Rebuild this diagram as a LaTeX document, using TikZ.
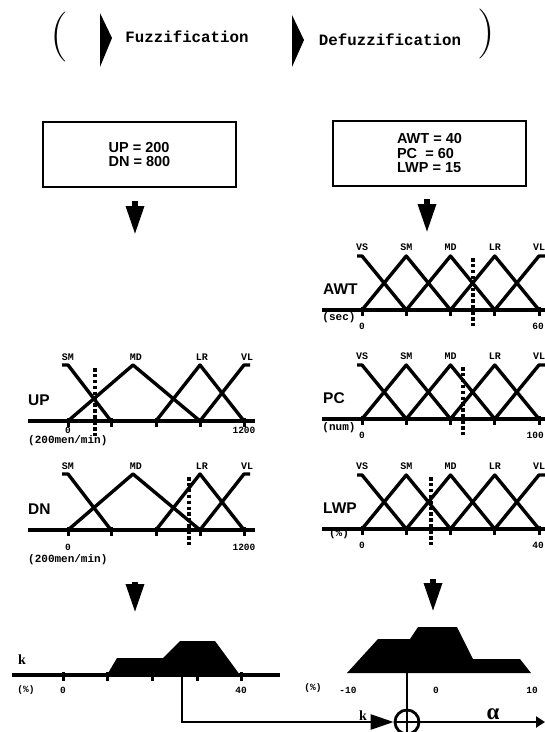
\documentclass[tikz,border=0pt]{standalone}
\usepackage{fontspec}
\usetikzlibrary{arrows.meta}
\newfontfamily\fzMono{Liberation Mono}
\newfontfamily\fzSans{Liberation Sans}
\newfontfamily\fzSerif{Liberation Serif}
\tikzset{
  mf line/.style={line width=3.4pt, line join=round},
  axis line/.style={line width=4.4pt},
  tick mark/.style={line width=3pt},
  cut line/.style={line width=3.6pt, dash pattern=on 3.5pt off 2.4pt},
  signal line/.style={line width=2.6pt},
  flow arrow/.style={line width=6pt, -{Triangle[length=29pt,width=17pt]}},
  paren/.style={font=\fontsize{50}{50}\selectfont, inner sep=0pt},
  stage label/.style={font=\fzMono\bfseries\fontsize{15.8}{16}\selectfont, inner sep=0pt},
  value box/.style={
    draw, line width=2.6pt, minimum width=193pt, minimum height=65pt,
    align=left, inner sep=0pt,
    font=\fzSans\bfseries\fontsize{14.5}{14.5}\selectfont,
  },
  term label/.style={font=\fzMono\bfseries\fontsize{10}{10}\selectfont, inner sep=0pt},
  small label/.style={font=\fzMono\bfseries\fontsize{9.5}{10}\selectfont, inner sep=0pt},
  unit label/.style={font=\fzMono\bfseries\fontsize{11}{11}\selectfont, inner sep=0pt},
  var label/.style={font=\fzSans\bfseries\fontsize{15.5}{16}\selectfont, inner sep=0pt, anchor=west},
  out label/.style={font=\fzSerif\bfseries\fontsize{14}{14}\selectfont, inner sep=0pt},
  alpha label/.style={font=\fzSerif\bfseries\fontsize{23}{23}\selectfont, inner sep=0pt},
  sum node/.style={circle, draw, line width=2.8pt, minimum size=24pt, inner sep=0pt},
}

\begin{document}
\begin{tikzpicture}[x=1pt, y=-1pt]
\clip (0,0) rectangle (545,732);
\fill[white] (0,0) rectangle (545,732);

% heading
\node[paren] (lpar) at (59,37) {(};
\node[paren] (rpar) at (486,34) {)};
\fill (100,13) -- (112,38) -- (100,67) -- cycle;
\fill (292,15) -- (304,40) -- (292,67) -- cycle;
\node[stage label] (fuzz) at (187,37) {Fuzzification};
\node[stage label] (defuzz) at (390,40) {Defuzzification};

% input values
\node[value box] (inL) at (139.5,154.5) {UP = 200\\DN = 800};
\node[value box] (inR) at (429.5,153.5) {AWT = 40\\PC\ \ = 60\\LWP = 15};

% flow arrows
\coordinate (fl1a) at (135,201); \coordinate (fl1b) at (135,235);
\coordinate (fr1a) at (427,199); \coordinate (fr1b) at (427,233);
\coordinate (fl2a) at (135,582); \coordinate (fl2b) at (135,613);
\coordinate (fr2a) at (433,579); \coordinate (fr2b) at (433,612);
\foreach \a/\b in {fl1a/fl1b, fr1a/fr1b, fl2a/fl2b, fr2a/fr2b}
  \draw[flow arrow] (\a) -- (\b);

% fuzzification: UP and DN (4 terms)
\foreach \nm/\ya/\cx/\ly/\uy in {UP/421/95/430/441, DN/530/189/547/560} {
  \pgfmathsetmacro\yp{\ya-56}
  \draw[axis line] (28,\ya) -- (255,\ya);
  \foreach \tx in {68,111,156,200,244}
    \draw[tick mark] (\tx,\ya-3) -- (\tx,\ya+6);
  \draw[mf line] (62,\yp) -- (68,\yp) -- (111,\ya);
  \draw[mf line] (68,\ya) -- (133,\yp) -- (200,\ya);
  \draw[mf line] (156,\ya) -- (200,\yp) -- (244,\ya);
  \draw[mf line] (200,\ya) -- (244,\yp) -- (250,\yp);
  \foreach \t/\tx in {SM/68, MD/136, LR/202, VL/247}
    \node[term label] (\nm-\t) at (\tx,\yp-8) {\t};
  \draw[cut line] (\cx,\yp+3) -- (\cx,\ya+17);
  \node[var label] (\nm-name) at (28,\ya-21) {\nm};
  \node[small label] (\nm-lo) at (68,\ly) {0};
  \node[small label] (\nm-hi) at (244,\ly) {1200};
  \node[unit label, anchor=west] (\nm-unit) at (28,\uy) {(200men/min)};
}

% defuzzification: AWT, PC and LWP (5 terms)
\foreach \nm/\ya/\cx/\unit/\uy/\hi in {AWT/310/473/(sec)/318/60,
                                     PC/419/463/(num)/428/100,
                                     LWP/529/431/(\%)/534/40} {
  \pgfmathsetmacro\yp{\ya-54}
  \draw[axis line] (322,\ya) -- (552,\ya);
  \foreach \i in {0,...,4}
    \draw[tick mark] (362+44.25*\i,\ya-3) -- (362+44.25*\i,\ya+6);
  \draw[mf line] (357,\yp) -- (362,\yp) -- (406.25,\ya);
  \foreach \i in {1,2,3}
    \draw[mf line] (317.75+44.25*\i,\ya) -- (362+44.25*\i,\yp) -- (406.25+44.25*\i,\ya);
  \draw[mf line] (494.75,\ya) -- (539,\yp) -- (552,\yp);
  \foreach \t [count=\i from 0] in {VS,SM,MD,LR,VL}
    \node[term label] (\nm-\t) at (362+44.25*\i,\yp-9) {\t};
  \draw[cut line] (\cx,\yp+2) -- (\cx,\ya+17);
  \node[var label] (\nm-name) at (323,\ya-21) {\nm};
  \node[unit label] (\nm-unit) at (339,\uy) {\unit};
  \node[small label] (\nm-lo) at (362,\ya+16) {0};
  \node[small label, anchor=east] (\nm-hi) at (544,\ya+16) {\hi};
}

% output k
\draw[axis line] (12,675) -- (280,675);
\foreach \tx in {63,107,152,197,241}
  \draw[tick mark] (\tx,672) -- (\tx,681);
\fill (107,675) -- (117,658) -- (163,658) -- (180,641) -- (215,641) -- (240,675) -- cycle;
\node[out label] (k-name) at (22,660) {k};
\node[small label] (k-unit) at (26,690) {(\%)};
\node[small label] (k-lo) at (63,690) {0};
\node[small label] (k-hi) at (241,690) {40};

% output alpha
\fill (347,673) -- (378,639) -- (410,639) -- (418,627) -- (457,627) -- (473,659)
  -- (520,659) -- (531,673) -- cycle;
\node[small label] (a-unit) at (313,688) {(\%)};
\node[small label] (a-lo) at (348,690) {-10};
\node[small label] (a-mid) at (436,690) {0};
\node[small label] (a-hi) at (532,690) {10};

% summing point
\coordinate (kout) at (182,666);
\coordinate (aout) at (407,668);
\coordinate (alphaend) at (545,722);
\node[sum node] (sum) at (407,722) {};
\draw[signal line] (sum.north) -- (sum.south) (sum.west) -- (sum.east);
\draw[signal line, -{Triangle[length=23pt,width=15pt]}] (kout) |- (sum);
\draw[signal line] (aout) -- (sum);
\draw[signal line, -{Triangle[length=9pt,width=11pt]}] (sum) -- (alphaend);
\node[out label, anchor=base] (k-in) at (363,720) {k};
\node[alpha label, anchor=base] (alpha) at (493,719) {α};

\end{tikzpicture}
\end{document}
